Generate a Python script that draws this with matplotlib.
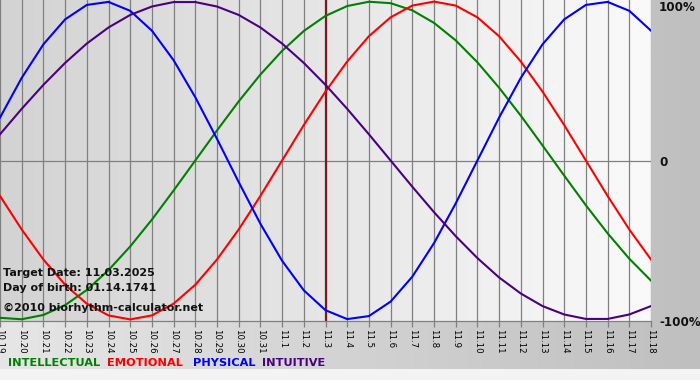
import matplotlib
matplotlib.use("Agg")
import matplotlib.pyplot as plt
import numpy as np
from matplotlib.colors import LinearSegmentedColormap

# day labels along the bottom (month.day)
days = ["10.19", "10.20", "10.21", "10.22", "10.23", "10.24", "10.25", "10.26",
        "10.27", "10.28", "10.29", "10.30", "10.31", "11.1", "11.2", "11.3",
        "11.4", "11.5", "11.6", "11.7", "11.8", "11.9", "11.10", "11.11",
        "11.12", "11.13", "11.14", "11.15", "11.16", "11.17", "11.18"]
target_day = "11.3"

# cycle values per day, -1 .. 1
intellectual = [-0.990, -0.999, -0.972, -0.910, -0.815, -0.690, -0.541, -0.372,
                -0.189, 0.000, 0.189, 0.372, 0.541, 0.690, 0.815, 0.910,
                0.972, 0.999, 0.990, 0.945, 0.866, 0.756, 0.618, 0.458,
                0.282, 0.095, -0.095, -0.282, -0.458, -0.618, -0.756]
emotional = [-0.223, -0.434, -0.623, -0.782, -0.901, -0.975, -1.000, -0.975,
             -0.901, -0.782, -0.623, -0.434, -0.223, 0.000, 0.223, 0.434,
             0.623, 0.782, 0.901, 0.975, 1.000, 0.975, 0.901, 0.782,
             0.623, 0.434, 0.223, 0.000, -0.223, -0.434, -0.623]
physical = [0.270, 0.520, 0.731, 0.888, 0.979, 0.998, 0.942, 0.817,
            0.631, 0.398, 0.136, -0.136, -0.398, -0.631, -0.817, -0.942,
            -0.998, -0.979, -0.888, -0.731, -0.520, -0.270, 0.000, 0.270,
            0.520, 0.731, 0.888, 0.979, 0.998, 0.942, 0.817]
intuitive = [0.165, 0.325, 0.476, 0.614, 0.736, 0.837, 0.916, 0.969,
             0.997, 0.997, 0.969, 0.916, 0.837, 0.736, 0.614, 0.476,
             0.325, 0.165, 0.000, -0.165, -0.325, -0.476, -0.614, -0.736,
             -0.837, -0.916, -0.969, -0.997, -0.997, -0.969, -0.916]

series = [
    ("INTELLECTUAL", intellectual, "#008000"),
    ("EMOTIONAL", emotional, "#ff0000"),
    ("PHYSICAL", physical, "#0000ff"),
    ("INTUITIVE", intuitive, "#4b0082"),
]

W, H = 700, 380
fig = plt.figure(figsize=(W / 100, H / 100), dpi=100)

# page background: grey gradient, pale strip at the very bottom
grad = np.linspace(0, 1, 256).reshape(1, -1)
bg = fig.add_axes([0, 0, 1, 1])
bg.set_axis_off()
bg.imshow(grad, aspect="auto", extent=(0, 1, 0, 1),
          cmap=LinearSegmentedColormap.from_list("page", ["#e6e6e6", "#bfbfbf"]))
bg.axhspan(0, 11 / H, color="#f3f3f3", lw=0)
bg.set_xlim(0, 1)
bg.set_ylim(0, 1)

# chart area
ax = fig.add_axes([0, 1 - 321 / H, 651 / W, 321 / H])
x = np.arange(len(days))
ax.imshow(grad, aspect="auto", extent=(0, len(days) - 1, -1.01, 1.01), zorder=0,
          cmap=LinearSegmentedColormap.from_list("plot", ["#d3d3d3", "#fafafa"]))
for xi in x:
    ax.axvline(xi, color="#808080", lw=0.9, zorder=1)
ax.axhline(0, color="#808080", lw=0.9, zorder=1)
ax.axvline(days.index(target_day), color="#7a1a1a", lw=1.6, zorder=2)

for name, vals, color in series:
    ax.plot(x, vals, color=color, lw=1.5, zorder=3, solid_joinstyle="round")

ax.set_xlim(0, len(days) - 1)
ax.set_ylim(-1.01, 1.01)
ax.set_yticks([])
ax.set_xticks(x)
ax.set_xticklabels(days, rotation=-90, fontsize=6.2, va="top", ha="center",
                   color="#000000")
ax.tick_params(axis="x", length=4, width=0.9, color="#808080", pad=2)
for side in ["top", "left", "right"]:
    ax.spines[side].set_visible(False)
ax.spines["bottom"].set_color("#808080")
ax.spines["bottom"].set_linewidth(0.9)


def fy(py):
    return 1 - py / H


# info text inside the chart
info = ["Target Date: 11.03.2025", "Day of birth: 01.14.1741",
        "\u00a92010 biorhythm-calculator.net"]
for txt, base in zip(info, [275.7, 291, 310.7]):
    fig.text(3 / W, fy(base), txt, fontsize=8, fontweight="bold",
             va="baseline", ha="left", color="#111111")

# percentage labels on the right
for txt, base in zip(["100%", "0", "-100%"], [11, 166, 325.7]):
    fig.text(659 / W, fy(base), txt, fontsize=8.6, fontweight="bold",
             va="baseline", ha="left", color="#111111")

# colour legend along the bottom
for (name, vals, color), lx in zip(series, [8, 107, 193, 262]):
    fig.text(lx / W, fy(365.7), name, fontsize=8.2, fontweight="bold",
             color=color, va="baseline", ha="left")

fig.savefig("out.png", dpi=100)
